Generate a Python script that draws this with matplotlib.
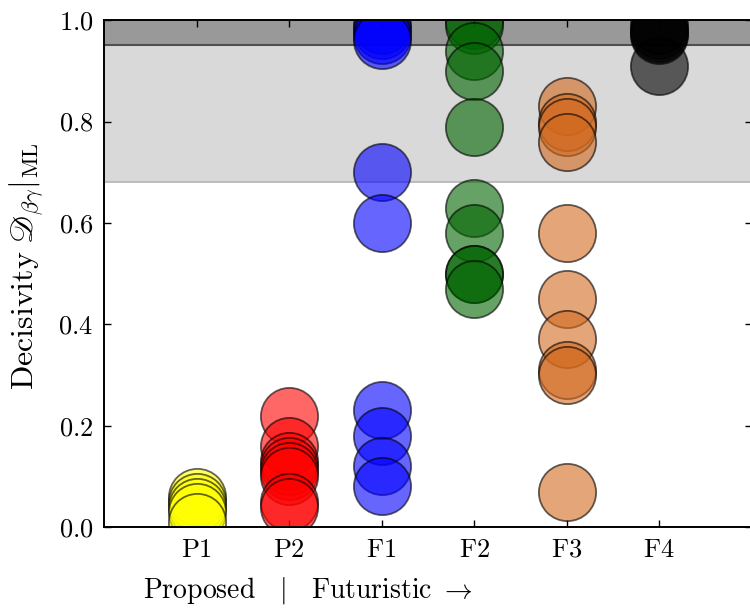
import matplotlib
matplotlib.use("Agg")
import matplotlib.pyplot as plt
from matplotlib.ticker import FixedLocator, FormatStrFormatter

plt.rcParams['mathtext.fontset'] = 'cm'
plt.rcParams['font.family'] = 'serif'
plt.rcParams['font.serif'] = ['cmr10', 'DejaVu Serif']
plt.rcParams['axes.unicode_minus'] = False

categories = ['P1', 'P2', 'F1', 'F2', 'F3', 'F4']
colors = ['yellow', 'red', 'blue', 'darkgreen', 'chocolate', 'black']

p1 = [0.06, 0.05, 0.04, 0.03, 0.01]
p2 = [0.22, 0.16, 0.13, 0.12, 0.11, 0.10, 0.05, 0.04]
f1 = [0.99, 0.98, 0.97, 0.96, 0.70, 0.60, 0.23, 0.18, 0.12, 0.08]
f2 = [1.00, 0.99, 0.94, 0.90, 0.79, 0.63, 0.58, 0.50, 0.50, 0.47]
f3 = [0.83, 0.80, 0.79, 0.76, 0.58, 0.45, 0.37, 0.31, 0.30, 0.07]
f4 = [0.99, 0.98, 0.975, 0.97, 0.91]
series = [p1, p2, f1, f2, f3, f4]

strong_threshold = 0.95
moderate_threshold = 0.68

fig = plt.figure(figsize=(7.5, 6.1), dpi=100)
ax = fig.add_axes([0.139, 0.136, 0.863, 0.831])

ax.axhspan(moderate_threshold, strong_threshold, facecolor='#d9d9d9', edgecolor='none', zorder=0)
ax.axhline(moderate_threshold, color='#b4b4b4', lw=1.2, zorder=0.5)
ax.axhspan(strong_threshold, 1.0, facecolor='#999999', edgecolor='none', zorder=0)
ax.axhline(strong_threshold, color='#505050', lw=1.5, zorder=0.5)

for i, (vals, col) in enumerate(zip(series, colors)):
    ax.scatter([i + 1] * len(vals), vals, s=1700, c=col, alpha=0.6,
               edgecolors='k', linewidths=1.3, zorder=2)

ax.set_xlim(0, 7)
ax.set_ylim(0, 1)
ax.xaxis.set_major_locator(FixedLocator(range(1, 7)))
ax.set_xticklabels([r'$\mathrm{%s}$' % c for c in categories], fontsize=19)
ax.set_yticks([0.0, 0.2, 0.4, 0.6, 0.8, 1.0])
ax.yaxis.set_major_formatter(FormatStrFormatter(r'$%.1f$'))
ax.tick_params(axis='y', labelsize=19)
ax.tick_params(direction='in', top=True, right=True, length=5, width=1.0, pad=8)
for sp in ax.spines.values():
    sp.set_linewidth(1.4)

ax.set_ylabel(r'$\mathrm{Decisivity}\ \mathscr{D}_{\beta\gamma}|_{\mathrm{ML}}$', fontsize=23)
ax.yaxis.set_label_coords(-0.09, 0.515)
ax.set_xlabel(r'$\mathrm{Proposed}\quad|\quad\mathrm{Futuristic}\ \rightarrow$', fontsize=20)
ax.xaxis.set_label_coords(0.315, -0.095)

fig.savefig('out.png', dpi=100)
